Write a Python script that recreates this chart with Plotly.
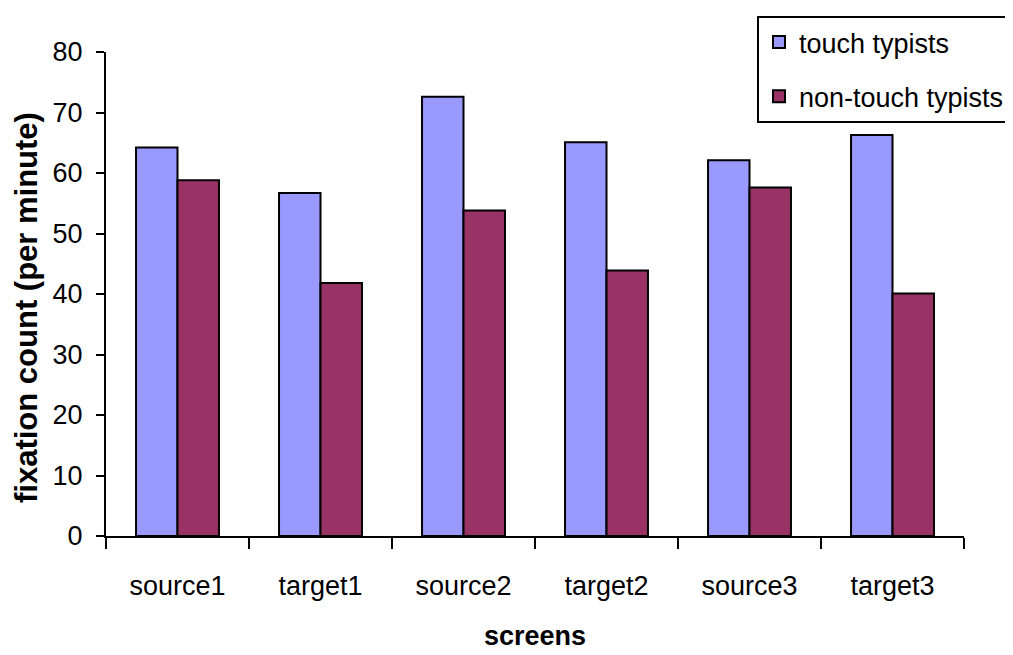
import plotly.graph_objects as go

categories = ["source1", "target1", "source2", "target2", "source3", "target3"]
touch_typists = [64.2, 56.7, 72.6, 65.1, 62.1, 66.3]
non_touch_typists = [58.8, 41.8, 53.8, 43.9, 57.6, 40.1]
y_ticks = [0, 10, 20, 30, 40, 50, 60, 70, 80]

FONT = "Liberation Sans, Arial, sans-serif"

fig = go.Figure()
fig.add_trace(go.Bar(
    x=categories, y=touch_typists, name="touch typists",
    marker=dict(color="#9999FF", line=dict(color="black", width=2)),
    legendgroup="a",
))
fig.add_trace(go.Bar(
    x=categories, y=non_touch_typists, name="non-touch typists",
    marker=dict(color="#993366", line=dict(color="black", width=2)),
    legendgroup="b",
))

fig.update_layout(
    width=1013, height=655,
    margin=dict(l=98, r=57, t=44, b=127, autoexpand=False),
    paper_bgcolor="white", plot_bgcolor="white",
    barmode="group", bargap=0.42, bargroupgap=0,
    font=dict(family=FONT, color="black", size=27),
    showlegend=True,
    legend=dict(
        xref="container", yref="container",
        x=(757 - 8) / 1013, y=1 - (16 - 8) / 655, xanchor="left", yanchor="top",
        bordercolor="black", borderwidth=2, bgcolor="white",
        font=dict(size=27), tracegroupgap=16,
        traceorder="grouped",
    ),
    xaxis=dict(
        type="category", tickson="boundaries", automargin=False,
        showline=True, linecolor="black", linewidth=2,
        ticks="outside", ticklen=11, tickwidth=2, tickcolor="black",
        ticklabelstandoff=25,
        tickfont=dict(size=27),
        title=dict(text="<b>screens</b>", font=dict(size=27), standoff=26),
        showgrid=False, zeroline=False,
    ),
    yaxis=dict(
        range=[0, 80], tickvals=y_ticks, automargin=False,
        showline=True, linecolor="black", linewidth=2,
        ticks="outside", ticklen=8, tickwidth=2, tickcolor="black",
        ticklabelstandoff=8,
        tickfont=dict(size=27),
        showgrid=False, zeroline=False,
    ),
    annotations=[dict(
        text="<b>fixation count (per minute)</b>",
        xref="paper", yref="paper",
        x=(26 - 106) / 858, y=(536 - 308) / 484,
        xanchor="center", yanchor="middle",
        textangle=-90, showarrow=False,
        font=dict(size=31, family=FONT, color="black"),
    )],
)

fig.write_html("out.html")
